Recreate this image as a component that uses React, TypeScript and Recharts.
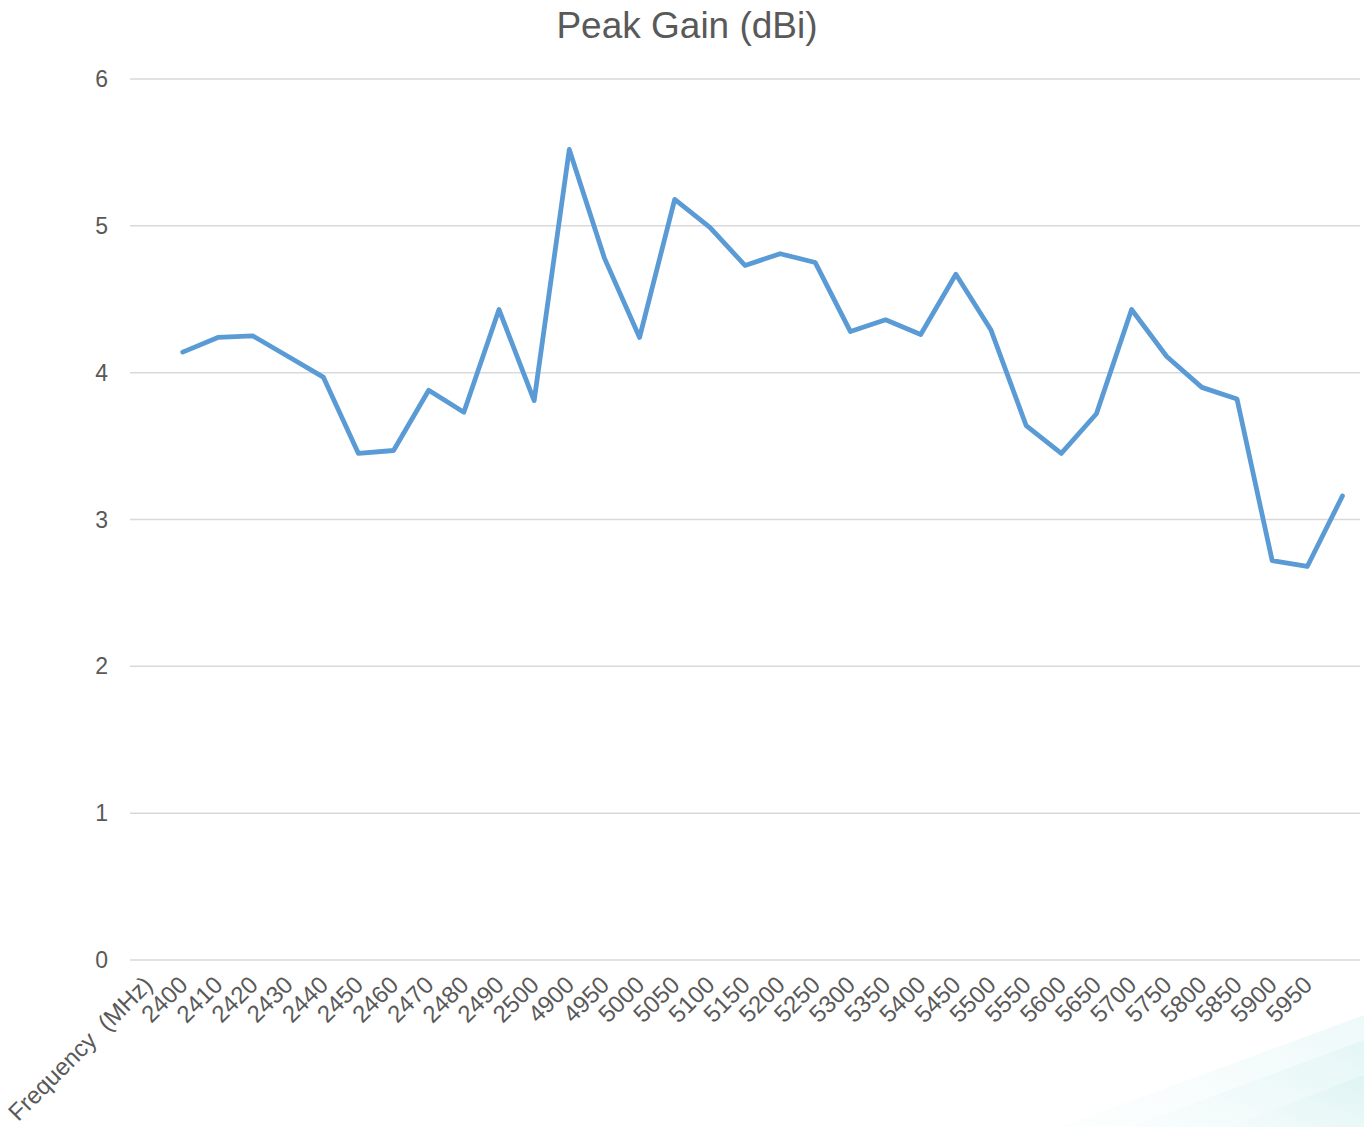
import React from "react";
import { LineChart, Line, XAxis, YAxis, CartesianGrid } from "recharts";

const categories: string[] = [
  "Frequency\u00A0 (MHz)",
  "2400", "2410", "2420", "2430", "2440", "2450", "2460", "2470", "2480", "2490", "2500",
  "4900", "4950", "5000", "5050", "5100", "5150", "5200", "5250", "5300", "5350", "5400",
  "5450", "5500", "5550", "5600", "5650", "5700", "5750", "5800", "5850", "5900", "5950",
  "",
];

const peakGain: (number | null)[] = [
  null,
  4.14, 4.24, 4.25, 4.11, 3.97, 3.45, 3.47, 3.88, 3.73, 4.43, 3.81,
  5.52, 4.78, 4.24, 5.18, 4.99, 4.73, 4.81, 4.75, 4.28, 4.36, 4.26,
  4.67, 4.29, 3.64, 3.45, 3.72, 4.43, 4.11, 3.90, 3.82, 2.72, 2.68,
  3.16,
];

const yTicks: number[] = [0, 1, 2, 3, 4, 5, 6];

const data = categories.map((c, i) => ({ freq: c, gain: peakGain[i] }));

const FONT = "'Liberation Sans', Arial, Helvetica, sans-serif";
const TEXT = "#595959";

const AngledTick = (props: any) => {
  const { x, y, payload } = props;
  return (
    <text
      x={x}
      y={y}
      dy={9}
      textAnchor="end"
      fill={TEXT}
      fontSize={24}
      fontFamily={FONT}
      transform={`rotate(-45, ${x}, ${y})`}
    >
      {payload.value}
    </text>
  );
};

export default function App() {
  return (
    <div style={{ position: "absolute", left: 0, top: 0, width: 1364, height: 1127, background: "#fff", overflow: "hidden" }}>
      <svg width={1364} height={1127} style={{ position: "absolute", left: 0, top: 0 }}>
        <defs>
          <linearGradient id="sw" x1="0" y1="1" x2="1" y2="0">
            <stop offset="0" stopColor="#e6f6f6" stopOpacity={0.2} />
            <stop offset="1" stopColor="#d8f2f2" stopOpacity={1} />
          </linearGradient>
        </defs>
        <polygon points="1060,1127 1364,1015 1364,1127" fill="url(#sw)" opacity={0.45} />
        <polygon points="1130,1127 1364,1040 1364,1127" fill="url(#sw)" opacity={0.5} />
        <polygon points="1230,1127 1364,1075 1364,1127" fill="url(#sw)" opacity={0.6} />
      </svg>
      <div
        style={{
          position: "absolute",
          left: 0,
          top: 5,
          width: 1374,
          textAlign: "center",
          fontFamily: FONT,
          fontSize: 37,
          color: TEXT,
          lineHeight: "42px",
        }}
      >
        Peak Gain (dBi)
      </div>
      <div style={{ position: "absolute", left: 0, top: 0 }}>
        <LineChart
          width={1364}
          height={1127}
          data={data}
          margin={{ top: 79, right: 4, bottom: 0, left: 0 }}
        >
          <CartesianGrid vertical={false} stroke="#d9d9d9" strokeWidth={1.5} />
          <XAxis
            dataKey="freq"
            scale="band"
            axisLine={false}
            tickLine={false}
            interval={0}
            height={167}
            tickSize={20}
            tickMargin={0}
            tick={<AngledTick />}
          />
          <YAxis
            domain={[0, 6]}
            ticks={yTicks}
            width={130}
            axisLine={false}
            tickLine={false}
            tickSize={20}
            tickMargin={2}
            tick={{ fill: TEXT, fontSize: 23, fontFamily: FONT }}
          />
          <Line
            type="linear"
            dataKey="gain"
            stroke="#5b9bd5"
            strokeWidth={4.8}
            dot={false}
            activeDot={false}
            strokeLinejoin="round"
            strokeLinecap="round"
            isAnimationActive={false}
          />
        </LineChart>
      </div>
    </div>
  );
}
